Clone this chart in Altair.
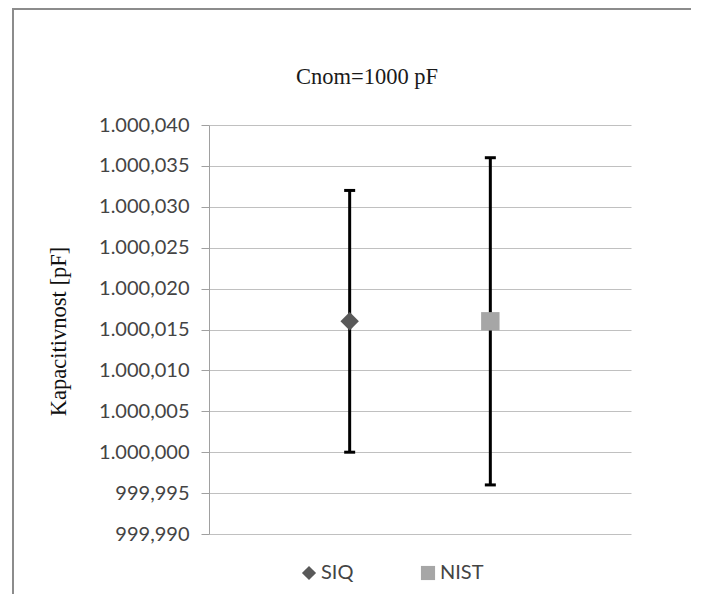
import altair as alt
import pandas as pd

series = ["SIQ", "NIST"]
values = [1000.016, 1000.016]
lower = [1000.000, 999.996]
upper = [1000.032, 1000.036]
y_ticks = [999.990, 999.995, 1000.000, 1000.005, 1000.010, 1000.015,
           1000.020, 1000.025, 1000.030, 1000.035, 1000.040]
shapes = ["diamond", "square"]
colors = ["#595959", "#a6a6a6"]

df = pd.DataFrame({"series": series, "value": values, "lower": lower, "upper": upper})

x = alt.X("series:N", scale=alt.Scale(type="point", padding=1, domain=series), axis=None)
yscale = alt.Scale(domain=[999.99, 1000.04], nice=False, zero=False)

yaxis = alt.Axis(
    values=y_ticks,
    labelExpr="replace(replace(replace(format(datum.value, ',.3f'), ',', '#'), '.', ','), '#', '.')",
    title="Kapacitivnost [pF]",
    titleFont="Liberation Serif", titleFontSize=22.5, titleFontWeight="normal", titleColor="#111111",
    titleX=-151, titleY=206, titleAlign="center", titleBaseline="middle", titleAngle=270,
    labelFont="Lato", labelFontSize=20, labelColor="#444444", labelPadding=12,
    tickSize=8, tickColor="#a0a0a0", tickWidth=1,
    domainColor="#a0a0a0", domainWidth=1,
    grid=True, gridColor="#c0c0c0", gridWidth=1,
)

legend = alt.Legend(
    title=None, orient="none", legendX=90, legendY=438, direction="horizontal",
    labelFont="Lato", labelFontSize=20, labelColor="#444444",
    symbolSize=200, labelOffset=2, columnPadding=64, padding=0, symbolStrokeWidth=0,
)

base = alt.Chart(df)
frame_df = pd.DataFrame({"k": [0]})

border_left = alt.Chart(frame_df).mark_rule(color="#8c8c8c", strokeWidth=2).encode(
    x=alt.value(-196), y=alt.value(-116), y2=alt.value(470)
)
border_top = alt.Chart(frame_df).mark_rule(color="#8c8c8c", strokeWidth=2).encode(
    x=alt.value(-197), x2=alt.value(490), y=alt.value(-116)
)

rules = base.mark_rule(color="black", strokeWidth=3).encode(
    x=x, y=alt.Y("lower:Q", scale=yscale, axis=yaxis), y2="upper:Q"
)
cap_lo = base.mark_tick(color="black", thickness=3, size=11, opacity=1).encode(
    x=x, y=alt.Y("lower:Q", scale=yscale)
)
cap_hi = base.mark_tick(color="black", thickness=3, size=11, opacity=1).encode(
    x=x, y=alt.Y("upper:Q", scale=yscale)
)
points = base.mark_point(filled=True, size=340, opacity=1, strokeWidth=0).encode(
    x=x,
    y=alt.Y("value:Q", scale=yscale),
    shape=alt.Shape("series:N", scale=alt.Scale(domain=series, range=shapes), legend=legend),
    color=alt.Color("series:N", scale=alt.Scale(domain=series, range=colors), legend=legend),
)

chart = alt.layer(border_left, border_top, rules, cap_lo, cap_hi, points).properties(
    width=422, height=409,
    background="white",
    autosize=alt.AutoSizeParams(type="none"),
    padding={"left": 201, "top": 117, "right": 60, "bottom": 60},
    title=alt.TitleParams(
        text="Cnom=1000 pF", font="Liberation Serif", fontSize=22.5, fontWeight="normal",
        color="#1a1a1a", anchor="middle", frame="group", dx=-53, dy=98,
        baseline="alphabetic", offset=0,
    ),
).configure_view(strokeWidth=0, stroke="transparent")

chart.save("out.html", embed_options={"renderer": "svg", "actions": False})
